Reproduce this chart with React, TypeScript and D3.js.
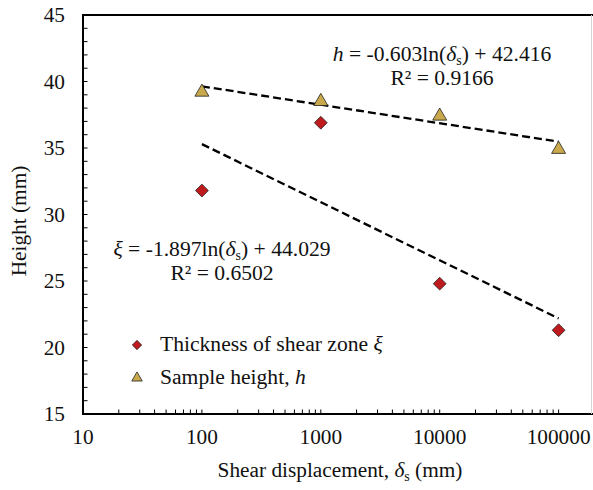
import * as d3 from "d3";

// shear displacement (mm)
const displacements = [100, 1000, 10000, 100000];
// sample height h (mm)
const sampleHeights = [39.2, 38.5, 37.4, 34.9];
// thickness of shear zone xi (mm)
const zoneThickness = [31.8, 36.9, 24.8, 21.3];

// log fits shown on the chart: y = a*ln(x) + b
const heightFit = { a: -0.603, b: 42.416, r2: "0.9166" };
const thickFit = { a: -1.897, b: 44.029, r2: "0.6502" };

const xMajorTicks = [10, 100, 1000, 10000, 100000];
const yTicks = [15, 20, 25, 30, 35, 40, 45];

const WIDTH = 593;
const HEIGHT = 490;
const FONT = "'Liberation Serif', 'Times New Roman', serif";
const FS = 21.3;
const FS_NOTE = 21.6;

function App() {
  const x = d3.scaleLog().domain([10, 1000000]).range([83, 83 + 5 * 118.9]);
  const y = d3.scaleLinear().domain([15, 45]).range([414, 15]);

  const left = x(10);
  const bottom = y(15);
  const top = y(45);

  // minor ticks 2..9 in each decade
  const xMinor: number[] = [];
  for (let d = 10; d < 1000000; d *= 10) {
    for (let k = 1; k < 10; k++) {
      const v = d * k;
      if (x(v) <= WIDTH) xMinor.push(v);
    }
  }
  const yMinor = d3.range(15, 46, 1);

  const fitLine = (fit: { a: number; b: number }) =>
    d3
      .line<number>()
      .x((v) => x(v))
      .y((v) => y(fit.a * Math.log(v) + fit.b))(d3.extent(displacements) as number[]);

  const diamond = d3.symbol().type(d3.symbolDiamond2);
  const triangle = d3.symbol().type(d3.symbolTriangle);

  return (
    <svg
      width={WIDTH}
      height={HEIGHT}
      style={{ position: "absolute", left: 0, top: 0, background: "#fff" }}
      fontFamily={FONT}
    >
      {/* frame */}
      <line x1={left} x2={WIDTH} y1={top} y2={top} stroke="#000" strokeWidth={2} />
      <line x1={left} x2={WIDTH} y1={bottom} y2={bottom} stroke="#000" strokeWidth={2} />
      <line x1={left} x2={left} y1={top - 1} y2={bottom + 1} stroke="#000" strokeWidth={2} />
      <line x1={WIDTH - 1.5} x2={WIDTH - 1.5} y1={top} y2={bottom} stroke="#d4d4d4" strokeWidth={1} />

      {/* y ticks */}
      {yMinor.map((v) => (
        <line key={"ym" + v} x1={left} x2={left + 4.5} y1={y(v)} y2={y(v)} stroke="#000" strokeWidth={1} />
      ))}
      {yTicks.map((v) => (
        <text key={"yt" + v} x={65} y={y(v)} textAnchor="end" dominantBaseline="central" fontSize={FS} fill="#111">
          {v}
        </text>
      ))}

      {/* x ticks */}
      {xMinor.map((v, i) => (
        <line key={"xm" + i} x1={x(v)} x2={x(v)} y1={bottom} y2={bottom - 4.5} stroke="#000" strokeWidth={1} />
      ))}
      {xMajorTicks.map((v) => (
        <text key={"xt" + v} x={x(v)} y={444} textAnchor="middle" fontSize={FS} fill="#111">
          {v}
        </text>
      ))}

      {/* axis titles */}
      <text x={340} y={477} textAnchor="middle" fontSize={FS} fill="#111">
        Shear displacement, <tspan fontStyle="italic">δ</tspan>
        <tspan fontSize={14} dy={4}>s</tspan>
        <tspan dy={-4}> (mm)</tspan>
      </text>
      <text transform="translate(26,221) rotate(-90)" textAnchor="middle" fontSize={FS} fill="#111">
        Height (mm)
      </text>

      {/* trend lines */}
      <path d={fitLine(heightFit) || ""} fill="none" stroke="#000" strokeWidth={2.3} strokeDasharray="8,4" />
      <path d={fitLine(thickFit) || ""} fill="none" stroke="#000" strokeWidth={2.3} strokeDasharray="8,4" />

      {/* points */}
      {displacements.map((d, i) => (
        <path
          key={"d" + i}
          d={diamond.size(105)() || ""}
          transform={`translate(${x(d)},${y(zoneThickness[i])})`}
          fill="#bf1b1e"
          stroke="#222"
          strokeWidth={0.8}
        />
      ))}
      {displacements.map((d, i) => (
        <path
          key={"t" + i}
          d={triangle.size(85)() || ""}
          transform={`translate(${x(d)},${y(sampleHeights[i])})`}
          fill="#c9a94b"
          stroke="#222"
          strokeWidth={0.8}
        />
      ))}

      {/* equations */}
      <text x={442} y={61} textAnchor="middle" fontSize={FS_NOTE} fill="#111">
        <tspan fontStyle="italic">h</tspan> = -0.603ln(<tspan fontStyle="italic">δ</tspan>
        <tspan fontSize={14} dy={4}>s</tspan>
        <tspan dy={-4}>) + 42.416</tspan>
      </text>
      <text x={442} y={85} textAnchor="middle" fontSize={FS_NOTE} fill="#111">
        R² = {heightFit.r2}
      </text>
      <text x={222} y={256} textAnchor="middle" fontSize={FS_NOTE} fill="#111">
        <tspan fontStyle="italic">ξ</tspan> = -1.897ln(<tspan fontStyle="italic">δ</tspan>
        <tspan fontSize={14} dy={4}>s</tspan>
        <tspan dy={-4}>) + 44.029</tspan>
      </text>
      <text x={222} y={280} textAnchor="middle" fontSize={FS_NOTE} fill="#111">
        R² = {thickFit.r2}
      </text>

      {/* legend */}
      <path d={diamond.size(55)() || ""} transform="translate(137,345)" fill="#bf1b1e" stroke="#222" strokeWidth={0.8} />
      <text x={160} y={351} fontSize={FS_NOTE} fill="#111">
        Thickness of shear zone <tspan fontStyle="italic">ξ</tspan>
      </text>
      <path d={triangle.size(48)() || ""} transform="translate(137,378)" fill="#c9a94b" stroke="#222" strokeWidth={0.8} />
      <text x={160} y={384} fontSize={FS_NOTE} fill="#111">
        Sample height, <tspan fontStyle="italic">h</tspan>
      </text>
    </svg>
  );
}

export default App;
